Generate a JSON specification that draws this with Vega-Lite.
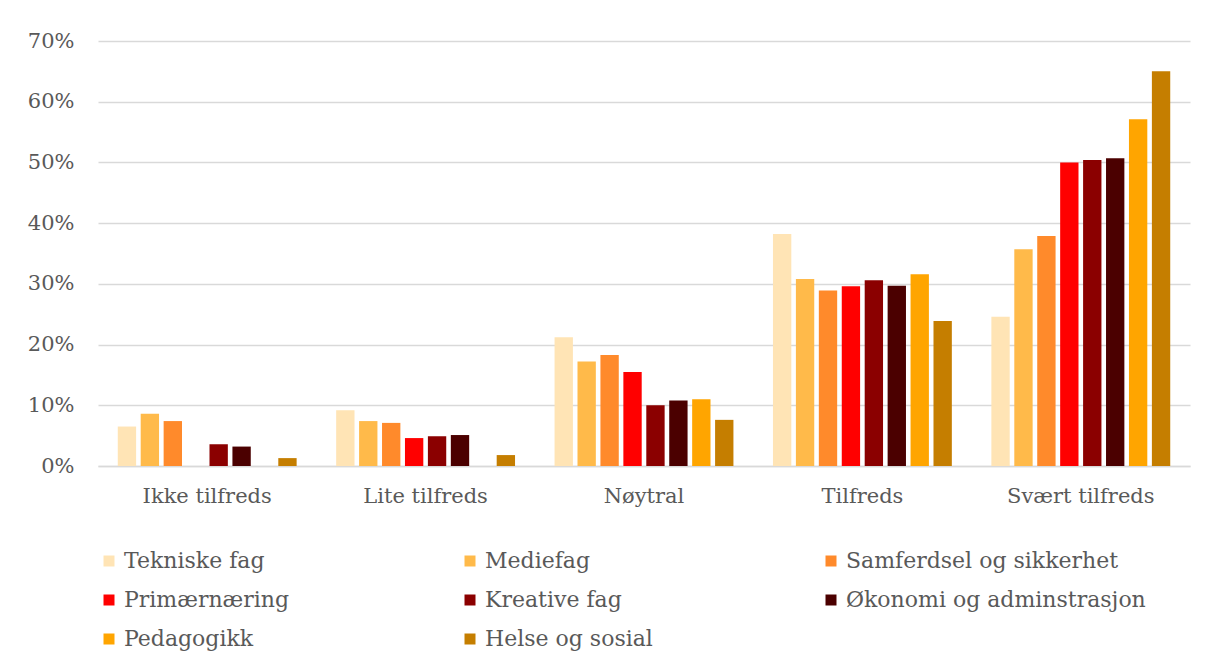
{
  "$schema": "https://vega.github.io/schema/vega-lite/v6.json",
  "autosize": {"type": "none"},
  "width": 1092,
  "height": 425,
  "padding": {"left": 98, "top": 41, "right": 18, "bottom": 200},
  "background": "white",
  "config": {
    "font": "DejaVu Serif",
    "view": {"stroke": null},
    "axis": {"labelColor": "#595959", "labelFont": "DejaVu Serif"},
    "legend": {"labelColor": "#595959", "labelFont": "DejaVu Serif"}
  },
  "data": {
    "values": [
      {"kat": "Ikke tilfreds", "fag": "Tekniske fag", "v": 0.065},
      {"kat": "Ikke tilfreds", "fag": "Mediefag", "v": 0.086},
      {"kat": "Ikke tilfreds", "fag": "Samferdsel og sikkerhet", "v": 0.074},
      {"kat": "Ikke tilfreds", "fag": "Primærnæring", "v": 0},
      {"kat": "Ikke tilfreds", "fag": "Kreative fag", "v": 0.036},
      {"kat": "Ikke tilfreds", "fag": "Økonomi og adminstrasjon", "v": 0.032},
      {"kat": "Ikke tilfreds", "fag": "Pedagogikk", "v": 0},
      {"kat": "Ikke tilfreds", "fag": "Helse og sosial", "v": 0.013},
      {"kat": "Lite tilfreds", "fag": "Tekniske fag", "v": 0.092},
      {"kat": "Lite tilfreds", "fag": "Mediefag", "v": 0.074},
      {"kat": "Lite tilfreds", "fag": "Samferdsel og sikkerhet", "v": 0.071},
      {"kat": "Lite tilfreds", "fag": "Primærnæring", "v": 0.046},
      {"kat": "Lite tilfreds", "fag": "Kreative fag", "v": 0.049},
      {"kat": "Lite tilfreds", "fag": "Økonomi og adminstrasjon", "v": 0.051},
      {"kat": "Lite tilfreds", "fag": "Pedagogikk", "v": 0},
      {"kat": "Lite tilfreds", "fag": "Helse og sosial", "v": 0.018},
      {"kat": "Nøytral", "fag": "Tekniske fag", "v": 0.212},
      {"kat": "Nøytral", "fag": "Mediefag", "v": 0.172},
      {"kat": "Nøytral", "fag": "Samferdsel og sikkerhet", "v": 0.183},
      {"kat": "Nøytral", "fag": "Primærnæring", "v": 0.155},
      {"kat": "Nøytral", "fag": "Kreative fag", "v": 0.100},
      {"kat": "Nøytral", "fag": "Økonomi og adminstrasjon", "v": 0.108},
      {"kat": "Nøytral", "fag": "Pedagogikk", "v": 0.110},
      {"kat": "Nøytral", "fag": "Helse og sosial", "v": 0.076},
      {"kat": "Tilfreds", "fag": "Tekniske fag", "v": 0.382},
      {"kat": "Tilfreds", "fag": "Mediefag", "v": 0.308},
      {"kat": "Tilfreds", "fag": "Samferdsel og sikkerhet", "v": 0.289},
      {"kat": "Tilfreds", "fag": "Primærnæring", "v": 0.296},
      {"kat": "Tilfreds", "fag": "Kreative fag", "v": 0.306},
      {"kat": "Tilfreds", "fag": "Økonomi og adminstrasjon", "v": 0.297},
      {"kat": "Tilfreds", "fag": "Pedagogikk", "v": 0.316},
      {"kat": "Tilfreds", "fag": "Helse og sosial", "v": 0.239},
      {"kat": "Svært tilfreds", "fag": "Tekniske fag", "v": 0.246},
      {"kat": "Svært tilfreds", "fag": "Mediefag", "v": 0.357},
      {"kat": "Svært tilfreds", "fag": "Samferdsel og sikkerhet", "v": 0.379},
      {"kat": "Svært tilfreds", "fag": "Primærnæring", "v": 0.500},
      {"kat": "Svært tilfreds", "fag": "Kreative fag", "v": 0.504},
      {"kat": "Svært tilfreds", "fag": "Økonomi og adminstrasjon", "v": 0.507},
      {"kat": "Svært tilfreds", "fag": "Pedagogikk", "v": 0.571},
      {"kat": "Svært tilfreds", "fag": "Helse og sosial", "v": 0.650}
    ]
  },
  "mark": {"type": "bar"},
  "encoding": {
    "x": {
      "field": "kat", "type": "nominal", "sort": null, "title": null,
      "scale": {"paddingInner": 0.16, "paddingOuter": 0.08},
      "axis": {"labelAngle": 0, "labelFontSize": 21, "labelPadding": 19, "ticks": false, "domainColor": "#d9d9d9", "domainWidth": 1.5}
    },
    "xOffset": {
      "field": "fag", "type": "nominal", "sort": null,
      "scale": {"paddingInner": 0.2, "paddingOuter": 0.1}
    },
    "y": {
      "field": "v", "type": "quantitative", "title": null,
      "scale": {"domain": [0, 0.7]},
      "axis": {"values": [0, 0.1, 0.2, 0.3, 0.4, 0.5, 0.6, 0.7], "format": ".0%", "labelFontSize": 21, "labelPadding": 24, "ticks": false, "domain": false, "gridColor": "#d9d9d9", "gridWidth": 1.5}
    },
    "color": {
      "field": "fag", "type": "nominal", "sort": null, "title": null,
      "scale": {
        "domain": ["Tekniske fag", "Mediefag", "Samferdsel og sikkerhet", "Primærnæring", "Kreative fag", "Økonomi og adminstrasjon", "Pedagogikk", "Helse og sosial"],
        "range": ["#FFE4B5", "#FFBA4A", "#FF8A2B", "#FF0000", "#8B0000", "#4B0000", "#FFA500", "#C57E00"]
      },
      "legend": {
        "orient": "none", "legendX": 0, "legendY": 509,
        "direction": "horizontal", "columns": 3, "gridAlign": "all",
        "columnPadding": 35, "rowPadding": 17,
        "symbolType": "square", "symbolSize": 121, "symbolStrokeWidth": 0, "symbolOffset": 0,
        "labelFontSize": 22, "labelOffset": 4, "labelLimit": 400
      }
    }
  }
}
